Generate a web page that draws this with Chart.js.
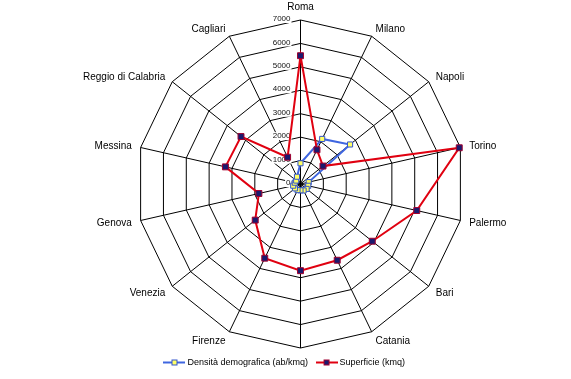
<!DOCTYPE html>
<html><head><meta charset="utf-8">
<script src="https://cdn.jsdelivr.net/npm/chart.js@4"></script>
<style>html,body{margin:0;padding:0;background:#fff}#wrap{width:571px;height:379px}</style>
</head><body><div id="wrap"><canvas id="c" width="571" height="379"></canvas></div>
<script>
const categories = ['Roma','Milano','Napoli','Torino','Palermo','Bari','Catania','','Firenze','Venezia','Genova','Messina','Reggio di Calabria','Cagliari'];
const densita = [884, 2136, 2706, 360, 340, 335, 305, 270, 290, 300, 320, 250, 235, 345];
const superficie = [5476, 1620, 1228, 6950, 5090, 3918, 3612, 3700, 3514, 2472, 1822, 3287, 3248, 1269];
const tickValues = [0, 1000, 2000, 3000, 4000, 5000, 6000, 7000];
const seriesNames = ['Densità demografica (ab/kmq)', 'Superficie (kmq)'];

const FONT = '"Liberation Sans", Arial, sans-serif';

function legendIcon(line, fill, border) {
  const c = document.createElement('canvas');
  c.width = 22; c.height = 8;
  const g = c.getContext('2d');
  g.strokeStyle = line; g.lineWidth = 2;
  g.beginPath(); g.moveTo(0, 4); g.lineTo(22, 4); g.stroke();
  g.fillStyle = fill; g.fillRect(8, 1, 6, 6);
  g.strokeStyle = border; g.lineWidth = 1; g.strokeRect(8.5, 1.5, 5, 5);
  return c;
}
const icons = [legendIcon('#3F66E0', '#FFFF66', '#3355CC'), legendIcon('#E00010', '#1A1A6E', '#A00030')];

const labelPlugin = {
  id: 'customLabels',
  beforeDatasetsDraw(chart) {
    const s = chart.scales.r;
    const ctx = chart.ctx;
    ctx.save();
    ctx.font = '8px ' + FONT;
    ctx.textAlign = 'right';
    ctx.textBaseline = 'middle';
    tickValues.forEach(v => {
      const r = s.getDistanceFromCenterForValue(v);
      const txt = String(v);
      const w = ctx.measureText(txt).width;
      const x = s.xCenter - 10, y = s.yCenter - r - 1;
      ctx.fillStyle = '#fff';
      ctx.fillRect(x - w - 1, y - 4, w + 2, 8);
      ctx.fillStyle = '#111';
      ctx.fillText(txt, x, y);
    });
    ctx.font = '10px ' + FONT;
    ctx.fillStyle = '#000';
    categories.forEach((name, i) => {
      if (!name) return;
      const p = s.getPointPosition(i, s.drawingArea + 9);
      const dx = p.x - s.xCenter, dy = p.y - s.yCenter;
      let align = 'center', base = 'middle';
      if (dx > 1) align = 'left';
      else if (dx < -1) align = 'right';
      else base = dy < 0 ? 'bottom' : 'top';
      ctx.textAlign = align;
      ctx.textBaseline = base;
      ctx.fillText(name, p.x, p.y + 1);
    });
    ctx.restore();
  }
};

new Chart(document.getElementById('c'), {
  type: 'radar',
  data: {
    labels: categories,
    datasets: [
      {
        label: seriesNames[0], data: densita, order: 1,
        borderColor: '#3F66E0', borderWidth: 2, fill: false, tension: 0,
        pointStyle: 'rect', pointRadius: 3.6, pointBackgroundColor: '#FFFF66',
        pointBorderColor: '#3355CC', pointBorderWidth: 1
      },
      {
        label: seriesNames[1], data: superficie, order: 0,
        borderColor: '#E00010', borderWidth: 2, fill: false, tension: 0,
        pointStyle: 'rect', pointRadius: 4.2, pointBackgroundColor: '#1A1A6E',
        pointBorderColor: '#A00030', pointBorderWidth: 1
      }
    ]
  },
  options: {
    responsive: false, animation: false, devicePixelRatio: 1,
    layout: { padding: { bottom: 2 } },
    plugins: {
      tooltip: { enabled: false },
      legend: {
        position: 'bottom',
        labels: {
          usePointStyle: true, pointStyleWidth: 17, padding: 10,
          font: { size: 9, family: FONT }, color: '#000',
          generateLabels: chart => chart.data.datasets.map((ds, i) => ({
            text: ds.label, pointStyle: icons[i], datasetIndex: i, hidden: false,
            lineWidth: 0, strokeStyle: 'rgba(0,0,0,0)', fillStyle: 'rgba(0,0,0,0)', fontColor: '#000'
          }))
        }
      }
    },
    scales: {
      r: {
        min: 0, max: 7000,
        ticks: { stepSize: 1000, display: false },
        grid: { color: '#000', lineWidth: 1, circular: false },
        angleLines: { color: '#000', lineWidth: 1 },
        pointLabels: { display: false },
        afterFit: (scale) => {
          scale.xCenter = 300.5;
          scale.yCenter = 184;
          scale.drawingArea = 164;
        }
      }
    }
  },
  plugins: [labelPlugin]
});
</script>
</body></html>
